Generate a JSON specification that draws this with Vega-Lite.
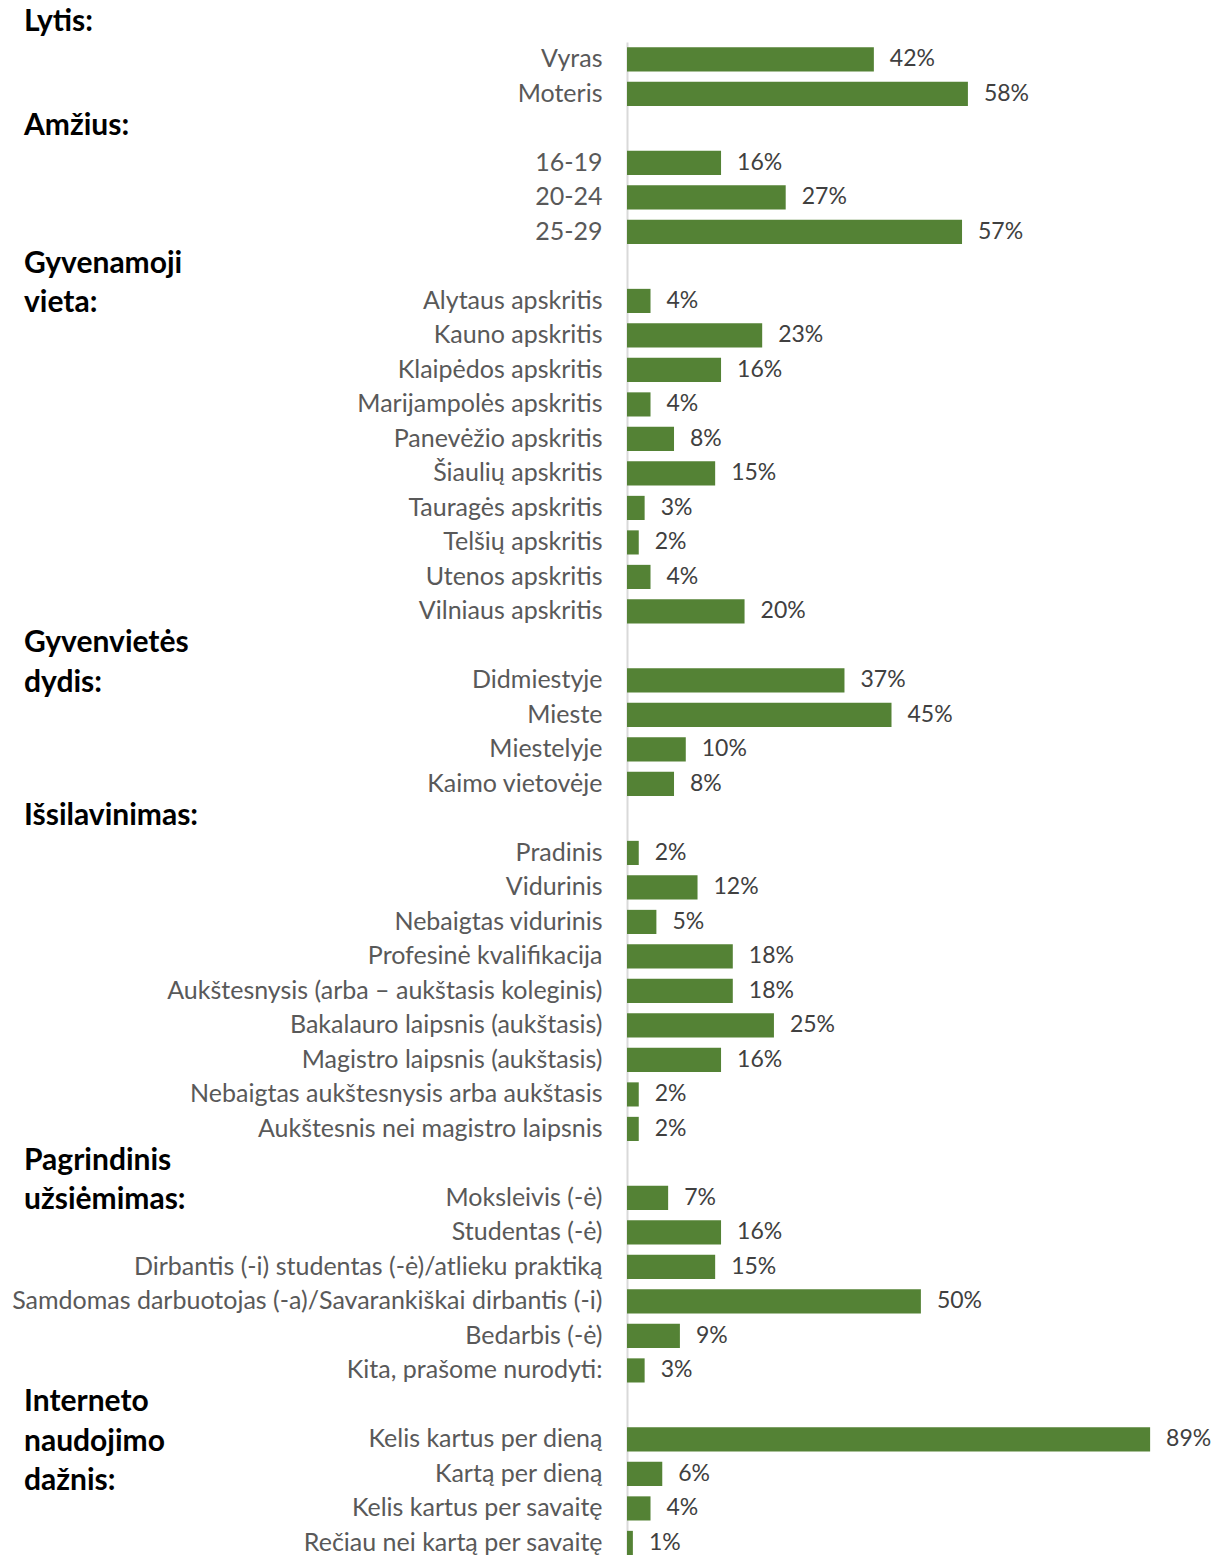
{
  "$schema": "https://vega.github.io/schema/vega-lite/v6.json",
  "autosize": {"type": "none"},
  "padding": {"left": 627, "top": 42, "right": 55, "bottom": 0},
  "width": 529,
  "height": 1513,
  "background": "white",
  "config": {"view": {"stroke": null}},
  "datasets": {
    "rows": [
      {"label": "Vyras", "value": 0.42},
      {"label": "Moteris", "value": 0.58},
      {"label": "16-19", "value": 0.16},
      {"label": "20-24", "value": 0.27},
      {"label": "25-29", "value": 0.57},
      {"label": "Alytaus apskritis", "value": 0.04},
      {"label": "Kauno apskritis", "value": 0.23},
      {"label": "Klaipėdos apskritis", "value": 0.16},
      {"label": "Marijampolės apskritis", "value": 0.04},
      {"label": "Panevėžio apskritis", "value": 0.08},
      {"label": "Šiaulių apskritis", "value": 0.15},
      {"label": "Tauragės apskritis", "value": 0.03},
      {"label": "Telšių apskritis", "value": 0.02},
      {"label": "Utenos apskritis", "value": 0.04},
      {"label": "Vilniaus apskritis", "value": 0.20},
      {"label": "Didmiestyje", "value": 0.37},
      {"label": "Mieste", "value": 0.45},
      {"label": "Miestelyje", "value": 0.10},
      {"label": "Kaimo vietovėje", "value": 0.08},
      {"label": "Pradinis", "value": 0.02},
      {"label": "Vidurinis", "value": 0.12},
      {"label": "Nebaigtas vidurinis", "value": 0.05},
      {"label": "Profesinė kvalifikacija", "value": 0.18},
      {"label": "Aukštesnysis (arba – aukštasis koleginis)", "value": 0.18},
      {"label": "Bakalauro laipsnis (aukštasis)", "value": 0.25},
      {"label": "Magistro laipsnis (aukštasis)", "value": 0.16},
      {"label": "Nebaigtas aukštesnysis arba aukštasis", "value": 0.02},
      {"label": "Aukštesnis nei magistro laipsnis", "value": 0.02},
      {"label": "Moksleivis (-ė)", "value": 0.07},
      {"label": "Studentas (-ė)", "value": 0.16},
      {"label": "Dirbantis (-i) studentas (-ė)/atlieku praktiką", "value": 0.15},
      {"label": "Samdomas darbuotojas (-a)/Savarankiškai dirbantis (-i)", "value": 0.50},
      {"label": "Bedarbis (-ė)", "value": 0.09},
      {"label": "Kita, prašome nurodyti:", "value": 0.03},
      {"label": "Kelis kartus per dieną", "value": 0.89},
      {"label": "Kartą per dieną", "value": 0.06},
      {"label": "Kelis kartus per savaitę", "value": 0.04},
      {"label": "Rečiau nei kartą per savaitę", "value": 0.01}
    ],
    "headers": [
      {"anchor": "Vyras", "lines": ["Lytis:"]},
      {"anchor": "16-19", "lines": ["Amžius:"]},
      {"anchor": "Alytaus apskritis", "lines": ["Gyvenamoji", "vieta:"]},
      {"anchor": "Didmiestyje", "lines": ["Gyvenvietės", "dydis:"]},
      {"anchor": "Pradinis", "lines": ["Išsilavinimas:"]},
      {"anchor": "Moksleivis (-ė)", "lines": ["Pagrindinis", "užsiėmimas:"]},
      {"anchor": "Kelis kartus per dieną", "lines": ["Interneto", "naudojimo", "dažnis:"]}
    ]
  },
  "layer": [
    {
      "data": {"name": "rows"},
      "mark": {"type": "bar", "color": "#548235"},
      "encoding": {
        "y": {
          "field": "label",
          "type": "nominal",
          "sort": null,
          "scale": {
            "domain": ["Vyras", "Moteris", " ", "16-19", "20-24", "25-29", "  ",
              "Alytaus apskritis", "Kauno apskritis", "Klaipėdos apskritis", "Marijampolės apskritis", "Panevėžio apskritis", "Šiaulių apskritis", "Tauragės apskritis", "Telšių apskritis", "Utenos apskritis", "Vilniaus apskritis", "   ",
              "Didmiestyje", "Mieste", "Miestelyje", "Kaimo vietovėje", "    ",
              "Pradinis", "Vidurinis", "Nebaigtas vidurinis", "Profesinė kvalifikacija", "Aukštesnysis (arba – aukštasis koleginis)", "Bakalauro laipsnis (aukštasis)", "Magistro laipsnis (aukštasis)", "Nebaigtas aukštesnysis arba aukštasis", "Aukštesnis nei magistro laipsnis", "     ",
              "Moksleivis (-ė)", "Studentas (-ė)", "Dirbantis (-i) studentas (-ė)/atlieku praktiką", "Samdomas darbuotojas (-a)/Savarankiškai dirbantis (-i)", "Bedarbis (-ė)", "Kita, prašome nurodyti:", "      ",
              "Kelis kartus per dieną", "Kartą per dieną", "Kelis kartus per savaitę", "Rečiau nei kartą per savaitę"],
            "paddingInner": 0.3,
            "paddingOuter": 0.0775,
            "align": 1,
            "round": false
          },
          "axis": {
            "title": null,
            "orient": "left",
            "domain": true,
            "domainColor": "#D9D9D9",
            "domainWidth": 2,
            "ticks": false,
            "grid": false,
            "labelPadding": 25,
            "labelLimit": 0,
            "labelFont": "Lato",
            "labelFontSize": 25,
            "labelColor": "#595959",
            "labelAlign": "right",
            "labelBaseline": "middle"
          }
        },
        "x": {
          "field": "value",
          "type": "quantitative",
          "scale": {"domain": [0, 0.9], "nice": false, "zero": true},
          "axis": null
        }
      }
    },
    {
      "data": {"name": "rows"},
      "mark": {"type": "text", "align": "left", "baseline": "middle", "dx": 16, "font": "Lato", "fontSize": 23, "color": "#404040"},
      "encoding": {
        "y": {"field": "label", "type": "nominal", "sort": null},
        "x": {"field": "value", "type": "quantitative"},
        "text": {"field": "value", "type": "quantitative", "format": ".0%"}
      }
    },
    {
      "data": {"name": "headers"},
      "mark": {"type": "text", "align": "left", "baseline": "alphabetic", "dx": -603, "dy": -28, "font": "Lato", "fontWeight": "bold", "fontSize": 30, "lineHeight": 39.5, "color": "#000000"},
      "encoding": {
        "y": {"field": "anchor", "type": "nominal", "sort": null},
        "x": {"datum": 0, "type": "quantitative"},
        "text": {"field": "lines"}
      }
    }
  ]
}
